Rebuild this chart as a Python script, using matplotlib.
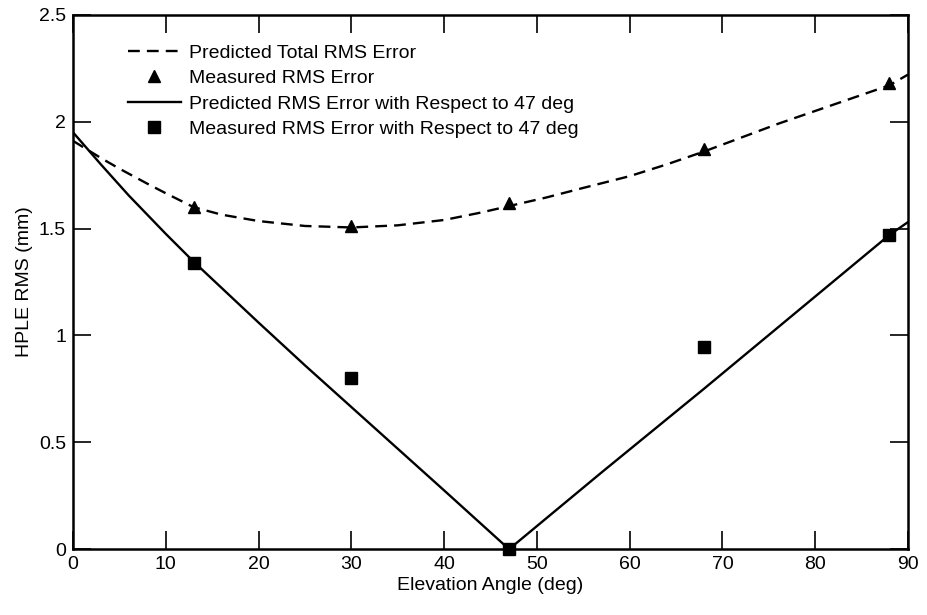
import numpy as np
import matplotlib
matplotlib.use("Agg")
import matplotlib.pyplot as plt

plt.rcParams['font.family'] = ['Liberation Sans', 'DejaVu Sans']

# measured points
meas_angle = [13, 30, 47, 68, 88]
meas_total = [1.60, 1.51, 1.62, 1.87, 2.18]
meas_rel47 = [1.34, 0.80, 0.0, 0.945, 1.47]

# predicted total RMS error (dashed curve)
pred_total_angle = [0, 3, 5, 8, 10, 13, 16, 20, 25, 30, 35, 40, 44, 47, 51, 55, 60, 64, 68, 72, 76, 80, 84, 88, 90]
pred_total = [1.91, 1.83, 1.78, 1.71, 1.665, 1.60, 1.565, 1.535, 1.512, 1.505, 1.515, 1.54, 1.575, 1.605, 1.645, 1.69, 1.745, 1.80, 1.86, 1.925, 1.99, 2.05, 2.11, 2.17, 2.22]

# predicted RMS error with respect to 47 deg (solid curve)
pred_rel_angle = [0, 3, 6, 10, 13, 20, 25, 30, 35, 40, 47, 57, 68, 78, 88, 90]
pred_rel = [1.95, 1.80, 1.655, 1.475, 1.345, 1.06, 0.86, 0.665, 0.47, 0.275, 0.0, 0.36, 0.75, 1.11, 1.47, 1.53]

fig = plt.figure(figsize=(9.28, 6.15), dpi=100)
ax = fig.add_axes([0.0787, 0.107, 0.8997, 0.869])

ax.plot(pred_total_angle, pred_total, 'k--', lw=1.7, dashes=(5, 3), label='Predicted Total RMS Error')
ax.plot(meas_angle, meas_total, 'k^', ms=8.5, ls='none', label='Measured RMS Error')
ax.plot(pred_rel_angle, pred_rel, 'k-', lw=1.7, label='Predicted RMS Error with Respect to 47 deg')
ax.plot(meas_angle, meas_rel47, 'ks', ms=8, ls='none', label='Measured RMS Error with Respect to 47 deg', clip_on=False)

ax.set_xlim(0, 90)
ax.set_ylim(0, 2.5)
ax.set_xticks(np.arange(0, 91, 10))
ax.set_yticks([0, 0.5, 1, 1.5, 2, 2.5])
ax.set_yticklabels(['0', '0.5', '1', '1.5', '2', '2.5'])
ax.tick_params(direction='in', length=13, width=1.2, top=True, right=True, labelsize=14, pad=5)
for s in ax.spines.values():
    s.set_linewidth(1.8)

ax.set_xlabel('Elevation Angle (deg)', fontsize=14, labelpad=3)
ax.set_ylabel('HPLE RMS (mm)', fontsize=14, labelpad=4)

ax.legend(loc='upper left', bbox_to_anchor=(0.066, 0.945), frameon=False, fontsize=14,
          handlelength=2.7, handletextpad=0.45, labelspacing=0.4, borderaxespad=0, borderpad=0)

fig.savefig('out.png', dpi=100)
